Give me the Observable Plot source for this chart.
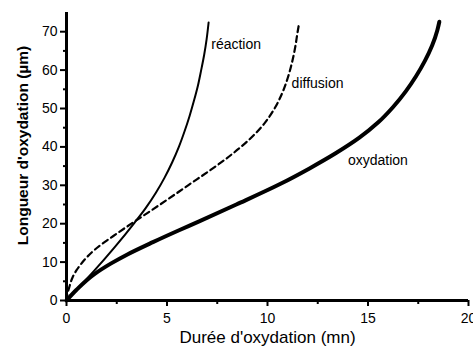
<!DOCTYPE html>
<html><head><meta charset="utf-8">
<script src="https://cdn.jsdelivr.net/npm/d3@7"></script>
<script src="https://cdn.jsdelivr.net/npm/@observablehq/plot@0.6"></script>
<style>body{margin:0;background:#fff}</style>
</head><body><div id="chart"></div>
<script>
const reactionX = [0, 0.7, 1.37, 2.4, 3.39, 3.93, 4.44, 4.88, 5.26, 5.59, 5.87, 6.12, 6.34, 6.54, 6.70, 6.85, 6.97, 7.07];
const reactionY = [0, 3.9, 7.7, 13.9, 20.3, 24, 28, 32, 36, 40, 44, 48, 52, 56, 60, 64, 68, 72.4];
const diffusionX = [0, 0.04, 0.13, 0.3, 0.5, 0.71, 1.0, 1.4, 2.0, 2.5, 3.0, 4.0, 5.0, 6.05, 7.17, 8.21, 9.11, 9.83, 10.35, 10.73, 11.01, 11.22, 11.38, 11.5, 11.56];
const diffusionY = [0, 1.6, 3.3, 6.0, 7.9, 9.4, 11.2, 13.2, 15.6, 17.4, 19.2, 22.7, 26.2, 30, 34, 38, 42, 46, 50, 54, 58, 62, 66, 70, 71.8];
const oxydationX = [0, 0.5, 1.37, 2.2, 3.03, 4.3, 5.6, 6.6, 8.45, 10.65, 12.09, 13.41, 14.57, 15.51, 16.25, 16.87, 17.39, 17.83, 18.19, 18.45, 18.55];
const oxydationY = [0, 2.8, 6.8, 9.6, 12, 15.2, 18.3, 20.6, 25, 30.4, 34.4, 38.4, 42.4, 46.4, 50.4, 54.4, 58.4, 62.4, 66.4, 70.4, 72.6];
const seriesNames = ["réaction", "diffusion", "oxydation"];
const labelX = [7.2, 11.2, 14.0];
const labelY = [66.6, 56.4, 36.4];
const xMajorTicks = [0, 5, 10, 15, 20];
const xMinorTicks = [2.5, 7.5, 12.5, 17.5];
const yMajorTicks = [0, 10, 20, 30, 40, 50, 60, 70];
const yMinorTicks = [5, 15, 25, 35, 45, 55, 65];
const xTitle = "Durée d'oxydation (mn)";
const yTitle = "Longueur d'oxydation (µm)";

const toRows = (xs, ys) => xs.map((x, i) => ({x, y: ys[i]}));
const reaction = toRows(reactionX, reactionY);
const diffusion = toRows(diffusionX, diffusionY);
const oxydation = toRows(oxydationX, oxydationY);
const labels = seriesNames.map((n, i) => ({n, x: labelX[i], y: labelY[i]}));

const chart = Plot.plot({
  width: 473, height: 347,
  marginLeft: 66, marginRight: 5, marginTop: 12, marginBottom: 47,
  style: {fontFamily: "'Liberation Sans', Arial, sans-serif", color: "#000", background: "#fff"},
  x: {domain: [0, 20], axis: null},
  y: {domain: [0, 75], axis: null},
  marks: [
    Plot.line(reaction, {x: "x", y: "y", stroke: "#000", strokeWidth: 2, curve: "monotone-y"}),
    Plot.line(diffusion, {x: "x", y: "y", stroke: "#000", strokeWidth: 2.2, strokeDasharray: "6,4", curve: "monotone-y"}),
    Plot.line(oxydation, {x: "x", y: "y", stroke: "#000", strokeWidth: 4, curve: "monotone-y"}),
    Plot.text(labels, {x: "x", y: "y", text: "n", textAnchor: "start", fontSize: 14, fill: "#000"}),
    Plot.axisX({ticks: xMajorTicks, tickSize: 6, tickPadding: 7, fontSize: 14, label: null, stroke: "#000", strokeWidth: 2}),
    Plot.axisX({ticks: xMinorTicks, tickSize: 4, tickFormat: () => "", label: null, stroke: "#000", strokeWidth: 2}),
    Plot.axisY({ticks: yMajorTicks, tickSize: 6, tickPadding: 3, fontSize: 14, label: null, stroke: "#000", strokeWidth: 2}),
    Plot.axisY({ticks: yMinorTicks, tickSize: 3, tickFormat: () => "", label: null, stroke: "#000", strokeWidth: 2}),
    Plot.ruleX([0], {stroke: "#000", strokeWidth: 3}),
    Plot.ruleY([0], {stroke: "#000", strokeWidth: 3}),
    Plot.text([xTitle], {frameAnchor: "bottom", dy: 37, fontSize: 17, textAnchor: "middle", lineAnchor: "middle", fill: "#000"}),
    Plot.text([yTitle], {frameAnchor: "left", dx: -43, dy: -11, rotate: -90, fontSize: 15.5, fontWeight: "bold", textAnchor: "middle", lineAnchor: "middle", fill: "#000"})
  ]
});
document.getElementById("chart").appendChild(chart);
</script>
</body></html>
